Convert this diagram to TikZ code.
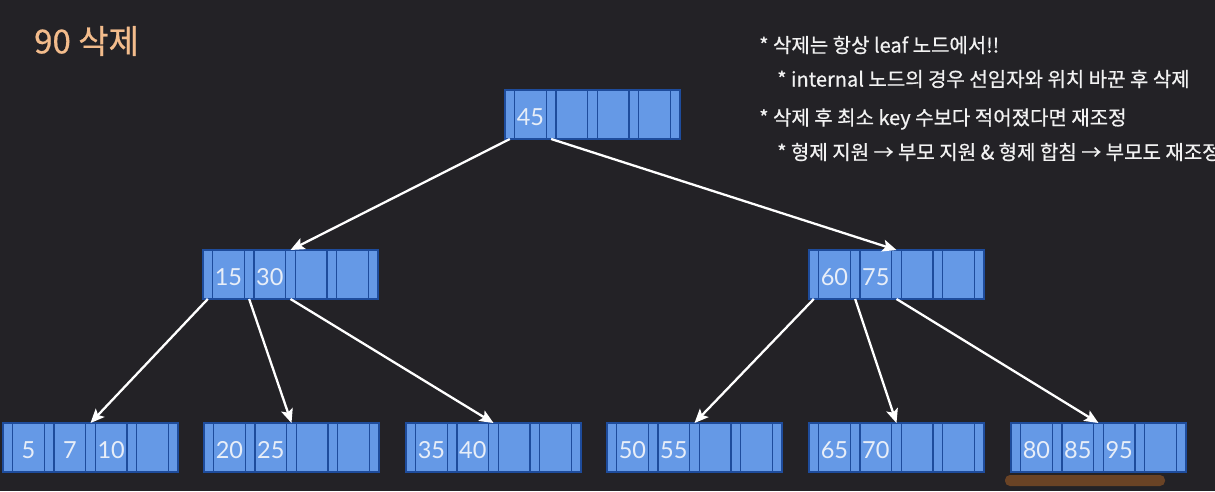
\documentclass[tikz,border=0pt]{standalone}
\usepackage{fontspec}
\newfontfamily\kr[FakeBold=0.6]{Noto Sans CJK KR}
\newfontfamily\num{Lato}
\usetikzlibrary{arrows.meta}
\definecolor{bg}{HTML}{232226}
\definecolor{slotfill}{HTML}{6599E6}
\definecolor{slotline}{HTML}{1E4C9C}
\definecolor{keytext}{HTML}{E8EEF8}
\definecolor{titlecol}{HTML}{F3BC8C}
\definecolor{notecol}{HTML}{F2F2F2}
\definecolor{barcol}{HTML}{6A4325}
\tikzset{
  slot/.style={draw=slotline, fill=slotfill, line width=1.3pt, inner sep=0pt, outer sep=0pt,
    minimum height=49pt, anchor=north west},
  ptr/.style={slot, minimum width=9.6pt},
  keyslot/.style={slot, minimum width=31.75pt, font=\num\fontsize{23.5}{23.5}\selectfont,
    text=keytext, text height=22pt, text depth=0pt},
  arr/.style={draw=white, line width=2.3pt, -{Stealth[length=14pt,width=12pt,inset=3pt]}},
  note/.style={anchor=west, inner sep=0pt, text=notecol, font=\kr\fontsize{20}{20}\selectfont},
}
\newcommand{\bnode}[7]{%
  \node[ptr] (#1-p0) at (#2,#3) {};
  \node[keyslot] (#1-k1) at (#1-p0.north east) {#4};
  \node[ptr] (#1-p1) at (#1-k1.north east) {};
  \node[keyslot] (#1-k2) at (#1-p1.north east) {#5};
  \node[ptr] (#1-p2) at (#1-k2.north east) {};
  \node[keyslot] (#1-k3) at (#1-p2.north east) {#6};
  \node[ptr] (#1-p3) at (#1-k3.north east) {};
  \node[keyslot] (#1-k4) at (#1-p3.north east) {#7};
  \node[ptr] (#1-p4) at (#1-k4.north east) {};
}
\begin{document}
\begin{tikzpicture}[x=1pt,y=-1pt]
\useasboundingbox (0,0) rectangle (1215,491);
\fill[bg] (0,0) rectangle (1215,491);

% title and notes
\node[anchor=west, inner sep=0pt, text=titlecol, font=\kr\fontsize{33}{33}\selectfont] (title) at (34,41) {90 삭제};
\node[note] (n1) at (759,45) {* 삭제는 항상 leaf 노드에서!!};
\node[note] (n2) at (777,79) {* internal 노드의 경우 선임자와 위치 바꾼 후 삭제};
\node[note] (n3) at (759,119) {* 삭제 후 최소 key 수보다 적어졌다면 재조정};
\node[note] (n4) at (777,152) {* 형제 지원 → 부모 지원 \& 형제 합침 → 부모도 재조정};

% nodes
\bnode{r}{505}{90}{45}{}{}{}
\bnode{ml}{203}{250}{15}{30}{}{}
\bnode{mr}{809}{250}{60}{75}{}{}
\bnode{la}{3}{423}{5}{7}{10}{}
\bnode{lb}{204}{423}{20}{25}{}{}
\bnode{lc}{406}{423}{35}{40}{}{}
\bnode{ld}{607}{423}{50}{55}{}{}
\bnode{le}{809}{423}{65}{70}{}{}
\bnode{lf}{1011}{423}{80}{85}{95}{}

% highlight bar
\fill[barcol, rounded corners=5pt] (1005,475) rectangle (1165,486);

% connectors
\draw[arr] (r-p0.south) -- (ml-p2.north);
\draw[arr] (r-p1.south) -- (mr-p2.north);
\draw[arr] (ml-p0.south) -- (la-p2.north);
\draw[arr] (ml-p1.south) -- (lb-p2.north);
\draw[arr] (ml-p2.south) -- (lc-p2.north);
\draw[arr] (mr-p0.south) -- (ld-p2.north);
\draw[arr] (mr-p1.south) -- (le-p2.north);
\draw[arr] (mr-p2.south) -- (lf-p2.north);
\end{tikzpicture}
\end{document}
